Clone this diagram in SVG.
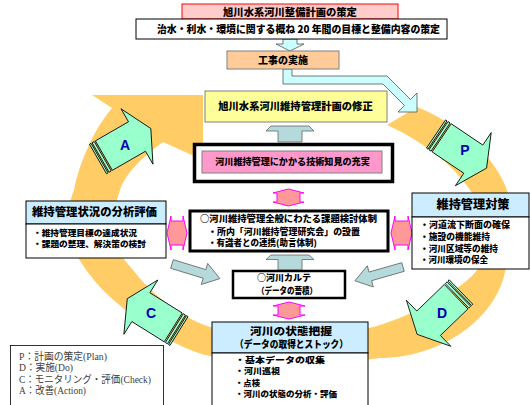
<svg xmlns="http://www.w3.org/2000/svg" xmlns:xlink="http://www.w3.org/1999/xlink" width="530" height="405" viewBox="0 0 530 405">
<style>
.jp{font-family:"Noto Sans CJK JP","Noto Sans CJK SC",sans-serif;font-weight:900;fill:#000}
.leg{font-family:"Liberation Serif","Noto Sans CJK JP",serif;font-size:10px;fill:#404040}
.let{font-family:"Liberation Sans",Arial,sans-serif;font-weight:bold;font-size:14px;fill:#0000B0;text-anchor:middle}
.mid{text-anchor:middle}
.hdr{fill:#CCECFF;stroke:#000;stroke-width:1}
.wbox{fill:#fff;stroke:#000;stroke-width:1}
.cyan{fill:#CCFFFF;stroke:#555;stroke-width:0.8}
.teal{fill:#B4DADC;stroke:#666;stroke-width:0.8}
.dbl{fill:#FF9999;stroke:#FF00FF;stroke-width:1}
.mint{fill:#99FFCC;stroke:#000;stroke-width:0.8}
</style>
<defs>
<g id="pdcaArrow">
<rect class="mint" x="0" y="-17" width="1.8" height="34"/>
<rect class="mint" x="3" y="-17" width="2.5" height="34"/>
<polygon class="mint" points="6.8,-17 45,-17 45,-32 61,0 45,32 45,17 6.8,17"/>
</g>
</defs>

<g id="cycle">
<path fill="#FFCC66" d="M387,125 L417,107 C468,128 502,165 510,200 C514,218 512,252 505,272 C495,320 440,358 380,358 C340,364 250,364 210,356 C170,348 120,308 100,287 C85,270 70,250 69,228 C68,210 70,200 74,190 C80,160 95,128 112,108 L92,95 L203,95 L203,160 L163,142 C145,155 126,172 120,190 C116,202 112,218 113,230 C114,245 122,258 133,270 C148,290 180,318 210,327 C250,338 340,338 380,325 C415,314 465,288 477,270 C485,255 486,240 484,230 C483,215 478,200 470,190 C460,175 445,160 427,148 C412,137 398,130 387,125 Z"/>
<use xlink:href="#pdcaArrow" transform="translate(436,134) rotate(34)"/>
<use xlink:href="#pdcaArrow" transform="translate(461,292) rotate(136)"/>
<use xlink:href="#pdcaArrow" transform="translate(179,331) rotate(212)"/>
<use xlink:href="#pdcaArrow" transform="translate(98,159) rotate(-30)"/>
<text class="let" x="465" y="155">P</text>
<text class="let" x="442" y="318">D</text>
<text class="let" x="151" y="318">C</text>
<text class="let" x="125" y="150">A</text>
</g>

<g id="connectors">
<path class="cyan" d="M283,39 L297,39 L297,44 L304,44 L290,51 L276,44 L283,44 Z"/>
<path class="cyan" d="M283,69 L292,69 L292,76 L387,76 L410.5,99.5 L417,93 L417,112 L398,112 L404.5,105.5 L383,84 L283,84 Z"/>
<path class="teal" d="M278,142 L278,131 L266,131 L271,126 L309,126 L314,131 L302,131 L302,142 Z"/>
<path class="teal" d="M278,270 L278,259.5 L266,259.5 L271,255 L309,255 L314,259.5 L302,259.5 L302,270 Z"/>
<polygon class="teal" transform="translate(172,264) rotate(17)" points="0,-4.5 34,-4.5 34,-11 50,0 34,11 34,4.5 0,4.5"/>
<polygon class="teal" transform="translate(403,267) rotate(164)" points="0,-4.5 34,-4.5 34,-11 50,0 34,11 34,4.5 0,4.5"/>
<path class="dbl" d="M288.5,189 L304,193 L300,193 L300,202 L304,202 L288.5,206 L273,202 L277,202 L277,193 L273,193 Z"/>
<path class="dbl" d="M289,302 L305,306 L300,306 L300,315 L305,315 L289,319 L273,315 L278,315 L278,306 L273,306 Z"/>
<path class="dbl" d="M167,233 L171,216 L171,221 L183,221 L183,216 L187,233 L183,250 L183,245 L171,245 L171,250 Z"/>
<path class="dbl" d="M391,233 L395,216 L395,221 L408,221 L408,216 L412,233 L408,250 L408,245 L395,245 L395,250 Z"/>
</g>

<g id="plan-title">
<rect x="182" y="4" width="216" height="15" fill="#FFCCCC" stroke="#FF0000" stroke-width="1"/>
<text class="jp mid" x="290" y="15.7" font-size="10.3">旭川水系河川整備計画の策定</text>
</g>
<g id="plan-detail">
<rect x="136" y="19" width="311" height="20" class="wbox"/>
<text class="jp" x="157" y="32.6" font-size="10.2" textLength="283" lengthAdjust="spacingAndGlyphs">治水・利水・環境に関する概ね 20 年間の目標と整備内容の策定</text>
</g>
<g id="construction">
<rect x="227" y="51" width="112" height="18" fill="#FFCC99" stroke="#808080" stroke-width="1"/>
<text class="jp mid" x="283" y="63.6" font-size="10">工事の実施</text>
</g>
<g id="plan-revision">
<rect x="205" y="91" width="182" height="31" fill="#FFFF99" stroke="#808080" stroke-width="1"/>
<text class="jp mid" x="295.5" y="110.2" font-size="10.3">旭川水系河川維持管理計画の修正</text>
</g>
<g id="tech-knowledge">
<rect x="194.5" y="144.5" width="198" height="37" fill="#fff" stroke="#000" stroke-width="3.5"/>
<rect x="202" y="151" width="180" height="22" fill="#FF99CC" stroke="#808080" stroke-width="1"/>
<text class="jp mid" x="292.5" y="165.3" font-size="9.1">河川維持管理にかかる技術知見の充実</text>
</g>
<g id="study-system">
<rect x="190" y="211" width="198" height="40" fill="#fff" stroke="#000" stroke-width="3"/>
<text class="jp" x="200" y="222.4" font-size="9" textLength="177" lengthAdjust="spacingAndGlyphs">○河川維持管理全般にわたる課題検討体制</text>
<text class="jp" x="208" y="235.2" font-size="8.6" textLength="152" lengthAdjust="spacingAndGlyphs">・所内「河川維持管理研究会」の設置</text>
<text class="jp" x="208" y="246.2" font-size="8.6" textLength="109" lengthAdjust="spacingAndGlyphs">・有識者との連携(助言体制)</text>
</g>
<g id="karte">
<rect x="233" y="271" width="112" height="27" fill="#fff" stroke="#000" stroke-width="2.5"/>
<text class="jp" x="257" y="281.2" font-size="8.8" textLength="54" lengthAdjust="spacingAndGlyphs">○河川カルテ</text>
<text class="jp" x="257" y="294.2" font-size="8.8" textLength="60" lengthAdjust="spacingAndGlyphs">（データの蓄積）</text>
</g>
<g id="evaluation">
<rect x="26" y="201" width="140" height="23" class="hdr"/>
<rect x="26" y="224" width="140" height="34" class="wbox"/>
<text class="jp" x="32" y="215.8" font-size="11.4" textLength="125" lengthAdjust="spacingAndGlyphs">維持管理状況の分析評価</text>
<text class="jp" x="33" y="236.1" font-size="8.4" textLength="104" lengthAdjust="spacingAndGlyphs">・維持管理目標の達成状況</text>
<text class="jp" x="33" y="246.6" font-size="8.4" textLength="113" lengthAdjust="spacingAndGlyphs">・課題の整理、解決策の検討</text>
</g>
<g id="measures">
<rect x="412" y="193" width="117" height="24" class="hdr"/>
<rect x="412" y="217" width="117" height="52" class="wbox"/>
<text class="jp mid" x="473" y="209.3" font-size="12" textLength="73" lengthAdjust="spacingAndGlyphs">維持管理対策</text>
<text class="jp" x="420" y="228.2" font-size="8.6" textLength="90" lengthAdjust="spacingAndGlyphs">・河道流下断面の確保</text>
<text class="jp" x="420" y="239.9" font-size="8.6" textLength="70" lengthAdjust="spacingAndGlyphs">・施設の機能維持</text>
<text class="jp" x="420" y="251.5" font-size="8.6" textLength="78" lengthAdjust="spacingAndGlyphs">・河川区域等の維持</text>
<text class="jp" x="420" y="263.2" font-size="8.6" textLength="68" lengthAdjust="spacingAndGlyphs">・河川環境の保全</text>
</g>
<g id="river-condition">
<rect x="212" y="322" width="156" height="31" class="hdr"/>
<rect x="212" y="353" width="156" height="60" class="wbox"/>
<text class="jp mid" x="291" y="334.5" font-size="10.4" textLength="82" lengthAdjust="spacingAndGlyphs">河川の状態把握</text>
<text class="jp mid" x="291.5" y="348.2" font-size="10" textLength="113" lengthAdjust="spacingAndGlyphs">（データの取得とストック）</text>
<text class="jp" x="235" y="363.2" font-size="8.4" textLength="90" lengthAdjust="spacingAndGlyphs">・基本データの収集</text>
<text class="jp" x="235" y="374.4" font-size="8.4" textLength="45" lengthAdjust="spacingAndGlyphs">・河川巡視</text>
<text class="jp" x="235" y="385.6" font-size="8.4" textLength="25" lengthAdjust="spacingAndGlyphs">・点検</text>
<text class="jp" x="235" y="396.8" font-size="8.4" textLength="102" lengthAdjust="spacingAndGlyphs">・河川の状態の分析・評価</text>
</g>
<g id="legend">
<rect x="10.5" y="345.5" width="153" height="70" fill="#fff" stroke="#000" stroke-width="0.8"/>
<text class="leg" x="19" y="359.5" textLength="88" lengthAdjust="spacingAndGlyphs">P：計画の策定(Plan)</text>
<text class="leg" x="19" y="371" textLength="54" lengthAdjust="spacingAndGlyphs">D：実施(Do)</text>
<text class="leg" x="19" y="382.5" textLength="132" lengthAdjust="spacingAndGlyphs">C：モニタリング・評価(Check)</text>
<text class="leg" x="19" y="394" textLength="67" lengthAdjust="spacingAndGlyphs">A：改善(Action)</text>
</g>
</svg>
